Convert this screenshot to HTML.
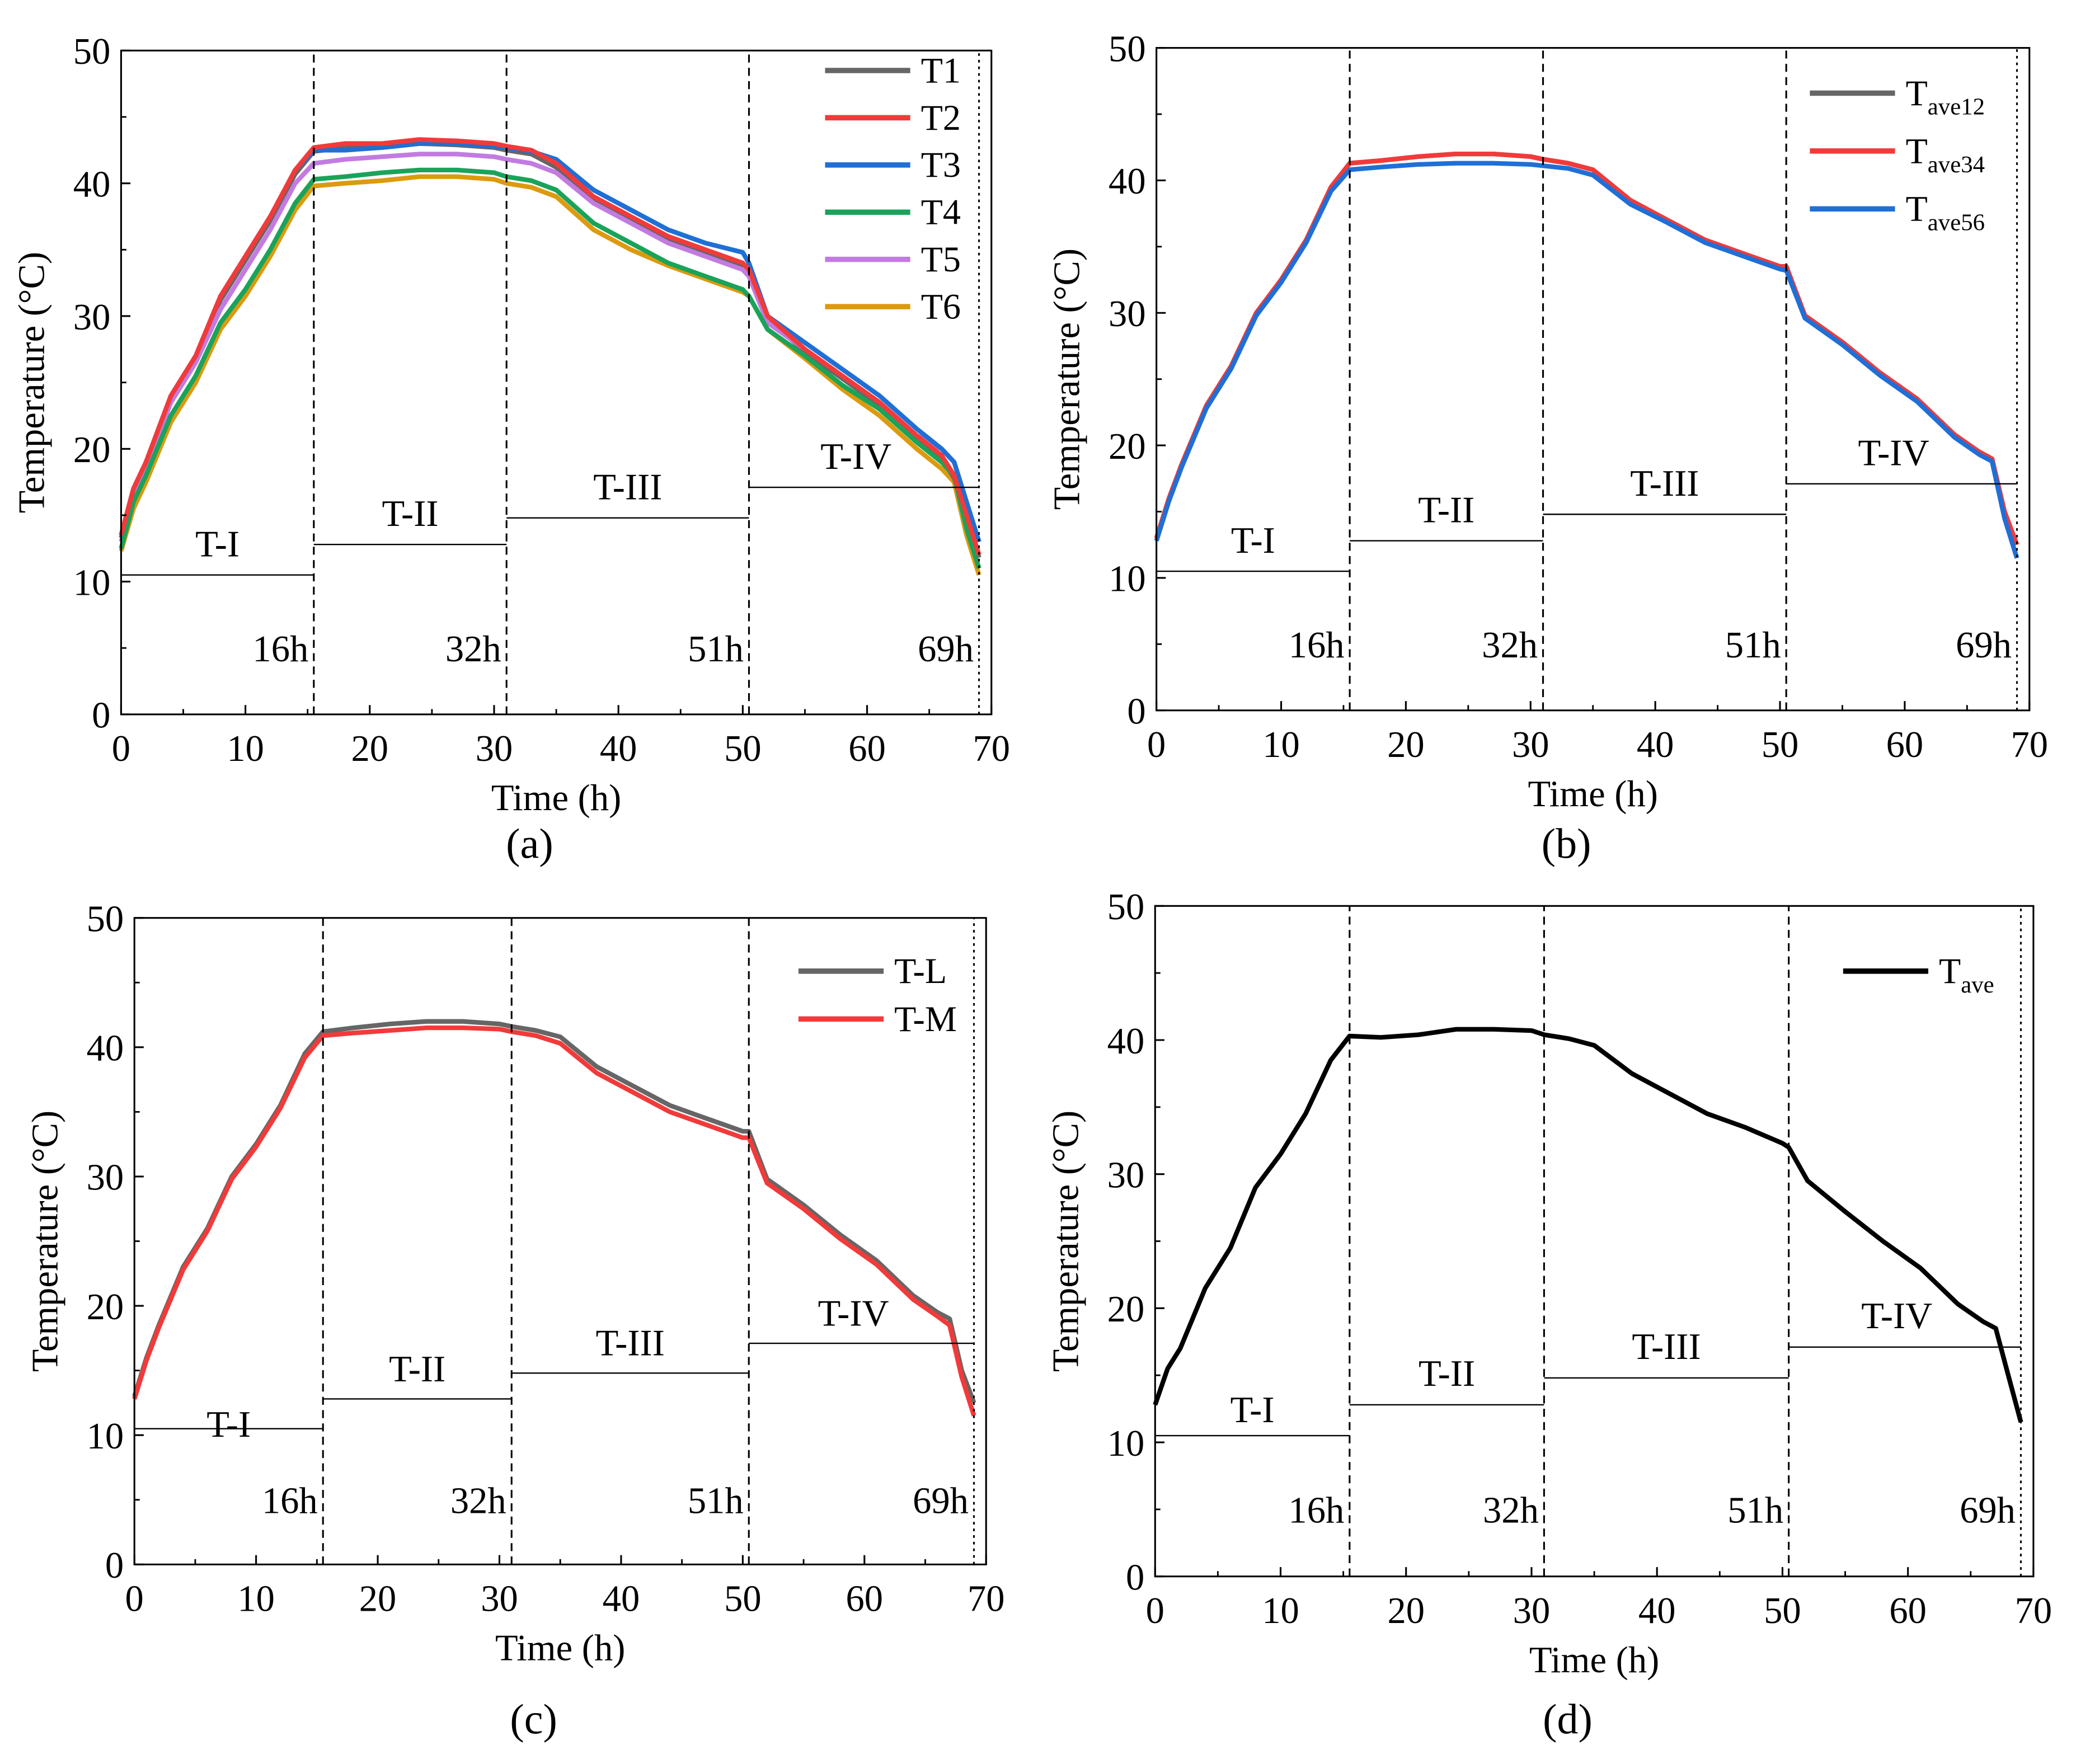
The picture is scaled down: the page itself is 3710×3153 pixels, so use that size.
<!DOCTYPE html>
<html><head><meta charset="utf-8"><style>
html,body{margin:0;padding:0;background:#fff}
svg{display:block}
text{font-family:"Liberation Serif",serif;fill:#000}
</style></head><body>
<svg id="fig" width="3710" height="3153" viewBox="0 0 1560 1326" preserveAspectRatio="none" xmlns="http://www.w3.org/2000/svg"></svg>
<script>
const times=[0,1,2,4,6,8,10,12,14,15.5,18,21,24,27,30,31,33,35,38,41,44,47,50,50.5,52,55,58,61,64,66,67,68,69];
const aT2=[13.5,17,19,24,27,31.5,34.5,37.5,41,42.7,43,43,43.3,43.2,43,42.8,42.5,41.5,39,37.5,36,35,34,33.5,30,27.5,25.5,23.5,21,19.5,18,15,12];
const aT1=[13.3,16.8,18.8,23.7,26.7,31.2,34.2,37.2,40.7,42.4,42.7,42.7,43,42.9,42.7,42.5,42.2,41.2,38.7,37.2,35.7,34.7,33.7,33.2,29.8,27.3,25.3,23.3,20.8,19.3,17.8,14.8,11.8];
const aT3=[13.5,17,19,24,27,31.5,34.5,37.5,41,42.5,42.5,42.7,43,43,42.8,42.7,42.4,41.8,39.5,38,36.5,35.5,34.8,34,30,28,26,24,21.5,20,19,16,13];
const aT4=[12.5,16,18,22.5,25.5,29.5,32,35,38.5,40.3,40.5,40.8,41,41,40.8,40.5,40.2,39.5,37,35.5,34,33,32,31.5,29,27,24.8,23,20.5,19,18,14,11];
const aT5=[13,16.5,18.5,23.5,26.5,30.5,33.5,36.5,40,41.5,41.8,42,42.2,42.2,42,41.8,41.5,40.8,38.5,37,35.5,34.5,33.5,33,29.5,27.5,25.5,23.5,21,20,19,16,13];
const aT6=[12.3,15.5,17.5,22,25,29,31.5,34.5,38,39.8,40,40.2,40.5,40.5,40.3,40,39.7,39,36.5,35,33.8,32.8,31.8,31.5,29,26.8,24.5,22.5,20,18.5,17.5,13.5,10.5];
const bT34=[13,16,18.5,23,26,30,32.5,35.5,39.5,41.3,41.5,41.8,42,42,41.8,41.6,41.3,40.8,38.5,37,35.5,34.5,33.5,33.5,29.8,27.8,25.5,23.5,20.8,19.5,19,15,12.5];
const bT56=[12.8,15.8,18.3,22.8,25.8,29.8,32.3,35.3,39.2,40.8,41,41.2,41.3,41.3,41.2,41.1,40.9,40.4,38.2,36.8,35.3,34.3,33.3,33.2,29.6,27.6,25.3,23.3,20.6,19.3,18.8,14.5,11.5];
const cTL=[13,16,18.5,23,26,30,32.5,35.5,39.5,41.2,41.5,41.8,42,42,41.8,41.6,41.3,40.8,38.5,37,35.5,34.5,33.5,33.5,29.8,27.8,25.5,23.5,20.8,19.5,19,15,12.5];
const cTM=[12.8,15.8,18.3,22.8,25.8,29.8,32.3,35.3,39.2,40.9,41.1,41.3,41.5,41.5,41.4,41.2,40.9,40.3,38,36.5,35,34,33,33,29.5,27.5,25.2,23.2,20.5,19.2,18.5,14.5,11.5];
const dTave=[12.8,15.5,17,21.5,24.5,29,31.5,34.5,38.5,40.3,40.2,40.4,40.8,40.8,40.7,40.4,40.1,39.6,37.5,36,34.5,33.5,32.3,32,29.5,27.2,25,23,20.3,19,18.5,15,11.5];
const xTicks=[0,10,20,30,40,50,60,70];
const yTicks=[0,10,20,30,40,50];
const phaseX=[0,15.5,31,50.5,69];
const phaseY=[10.5,12.8,14.8,17.1];
const phaseNames=["T-I","T-II","T-III","T-IV"];
const hourLabels=["16h","32h","51h","69h"];

const NS="http://www.w3.org/2000/svg";
const fig=document.getElementById('fig');
function mk(tag,attrs,parent){const e=document.createElementNS(NS,tag);for(const k in attrs)e.setAttribute(k,attrs[k]);(parent||fig).appendChild(e);return e;}

const panels=[
 {id:'a',x0:91,x1:745,y0:537,y1:38,cap:'(a)',capY:645,series:[['T1',aT1,'#666'],['T2',aT2,'#f23a3a'],['T3',aT3,'#1f6fd6'],['T4',aT4,'#1aa35a'],['T5',aT5,'#c27be0'],['T6',aT6,'#dc9a0e']],draw:[5,0,4,3,2,1],legX:620,legY:53,legDy:35.5,sub:false,labOff:2.4},
 {id:'b',x0:869,x1:1525,y0:534,y1:36,cap:'(b)',capY:645,series:[['ave12',bT34,'#666'],['ave34',bT34,'#f23a3a'],['ave56',bT56,'#1f6fd6']],draw:[0,1,2],legX:1360,legY:70,legDy:43.5,sub:true,labOff:2.4},
 {id:'c',x0:101,x1:741,y0:1176,y1:690,cap:'(c)',capY:1303,series:[['T-L',cTL,'#666'],['T-M',cTM,'#f23a3a']],draw:[0,1],legX:600,legY:730,legDy:36,sub:false,labOff:0.4},
 {id:'d',x0:868,x1:1528,y0:1185,y1:681,cap:'(d)',capY:1303,series:[['ave',dTave,'#000']],draw:[0],legX:1385,legY:730,legDy:36,sub:true,labOff:2.0}
];

panels.forEach(p=>{
 const g=mk('g',{});
 
 
 const X=t=>p.x0+(p.x1-p.x0)*t/70;
 const Y=v=>p.y0+(p.y1-p.y0)*v/50;
 p.draw.forEach(i=>{
  const s=p.series[i];
  const pts=times.map((t,k)=>X(t).toFixed(1)+','+Y(s[1][k]).toFixed(1)).join(' ');
  const pl=mk('polyline',{points:pts,fill:'none',stroke:s[2],'stroke-width':3.5,'stroke-linejoin':'round'},g);
  
  
 });
 const fr=mk('rect',{x:p.x0,y:p.y1,width:p.x1-p.x0,height:p.y0-p.y1,fill:'none',stroke:'#000','stroke-width':1.3},g);
 
 
 xTicks.forEach(t=>{
  mk('line',{x1:X(t),x2:X(t),y1:p.y0,y2:p.y0-7,stroke:'#000','stroke-width':1.3},g);
  if(t<70)mk('line',{x1:X(t+5),x2:X(t+5),y1:p.y0,y2:p.y0-4,stroke:'#000','stroke-width':1.2},g);
  const tx=mk('text',{x:X(t),y:p.y0+35,'font-size':28,'text-anchor':'middle'},g);
  tx.textContent=t;
  
  
 });
 yTicks.forEach(v=>{
  mk('line',{x1:p.x0,x2:p.x0+7,y1:Y(v),y2:Y(v),stroke:'#000','stroke-width':1.3},g);
  if(v<50)mk('line',{x1:p.x0,x2:p.x0+4,y1:Y(v+5),y2:Y(v+5),stroke:'#000','stroke-width':1.2},g);
  const ty=mk('text',{x:p.x0-8,y:Y(v)+10,'font-size':28,'text-anchor':'end'},g);
  ty.textContent=v;
  
  
 });
 const xt=mk('text',{x:(p.x0+p.x1)/2,y:p.y0+72,'font-size':28,'text-anchor':'middle'},g);
 xt.textContent='Time (h)';
 
 
 const yt=mk('text',{x:0,y:0,'font-size':28,'text-anchor':'middle',transform:`translate(${p.x0-58},${(p.y0+p.y1)/2}) rotate(-90)`},g);
 yt.textContent='Temperature (°C)';
 
 
 const cp=mk('text',{x:(p.x0+p.x1)/2-20,y:p.capY,'font-size':32,'text-anchor':'middle'},g);
 cp.textContent=p.cap;
 
 
 for(let i=1;i<4;i++){
  const l=mk('line',{x1:X(phaseX[i]),x2:X(phaseX[i]),y1:p.y0,y2:p.y1,stroke:'#000','stroke-width':1.3,'stroke-dasharray':'6,4'},g);
  
  
 }
 const dl=mk('line',{x1:X(phaseX[4]),x2:X(phaseX[4]),y1:p.y0,y2:p.y1,stroke:'#000','stroke-width':1.3,'stroke-dasharray':'2,3'},g);
 
 
 for(let i=0;i<4;i++){
  const hl=mk('line',{x1:X(phaseX[i]),x2:X(phaseX[i+1]),y1:Y(phaseY[i]),y2:Y(phaseY[i]),stroke:'#000','stroke-width':1},g);
  
  
  const pn=mk('text',{x:X((phaseX[i]+phaseX[i+1])/2)-(i==3?6:0),y:Y(phaseY[i]+(i==0?p.labOff:2.4))+10,'font-size':28,'text-anchor':'middle'},g);
  pn.textContent=phaseNames[i];
  
  
  const hh=mk('text',{x:X(phaseX[i+1])-4,y:Y(5)+10,'font-size':28,'text-anchor':'end'},g);
  hh.textContent=hourLabels[i];
  
  
 }
 p.series.forEach((s,i)=>{
  const y=p.legY+i*p.legDy;
  const ll=mk('line',{x1:p.legX,x2:p.legX+64,y1:y,y2:y,stroke:s[2],'stroke-width':4},g);
  
  
  const lt=mk('text',{x:p.legX+72,y:y+9,'font-size':27},g);
  
  
  if(p.sub){
   lt.textContent='T';
   const ts=mk('tspan',{'font-size':18,dy:7},lt);
   ts.textContent=s[0];
  } else lt.textContent=s[0];
 });
});
</script>
</body></html>
